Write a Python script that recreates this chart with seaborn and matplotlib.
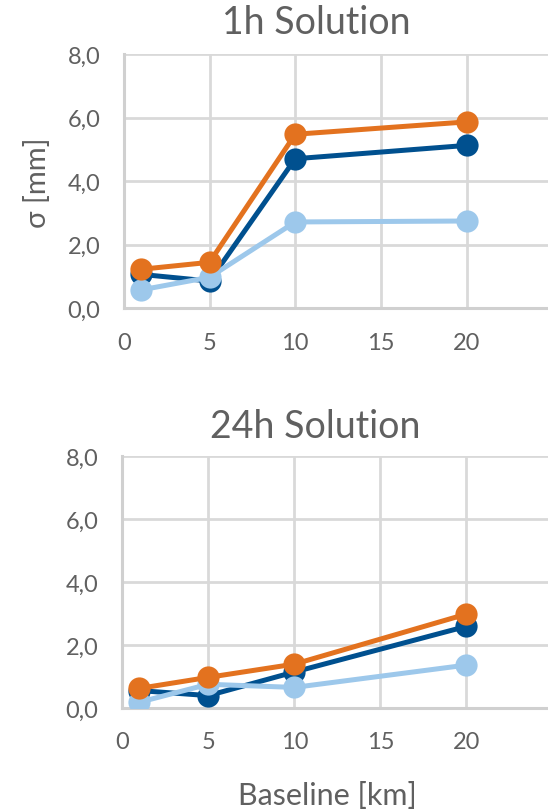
import matplotlib
matplotlib.use("Agg")
import matplotlib.pyplot as plt
import matplotlib.ticker as mticker
import pandas as pd
import seaborn as sns

# Baselines and standard deviations for the two solution lengths
baselines = [1, 5, 10, 20]
series_names = ["Series A", "Series B", "Series C"]
sigma_1h = {
    "Series A": [1.07, 0.86, 4.71, 5.13],
    "Series B": [0.58, 0.98, 2.72, 2.75],
    "Series C": [1.23, 1.45, 5.48, 5.87],
}
sigma_24h = {
    "Series A": [0.55, 0.39, 1.14, 2.59],
    "Series B": [0.18, 0.75, 0.65, 1.36],
    "Series C": [0.62, 0.97, 1.39, 2.98],
}
y_ticks = [0, 2, 4, 6, 8]
x_ticks = [0, 5, 10, 15, 20]

palette = {"Series A": "#00508F", "Series B": "#9DC8EB", "Series C": "#E3721F"}
text_color = "#606060"
grid_color = "#D9D9D9"

sns.set_theme(style="whitegrid")
plt.rcParams["font.family"] = ["Lato", "DejaVu Sans"]


def long_frame(values):
    rows = []
    for name in series_names:
        for b, v in zip(baselines, values[name]):
            rows.append({"baseline": b, "sigma": v, "series": name})
    return pd.DataFrame(rows)


fig = plt.figure(figsize=(5.48, 8.12), dpi=100)
ax_top = fig.add_axes([0.226, 0.619, 0.782, 0.313])
ax_bot = fig.add_axes([0.223, 0.127, 0.785, 0.310])

for ax, values in [(ax_top, sigma_1h), (ax_bot, sigma_24h)]:
    sns.lineplot(
        data=long_frame(values), x="baseline", y="sigma", hue="series",
        hue_order=series_names, palette=palette, marker="o", markersize=16,
        markeredgewidth=0, linewidth=3.6, legend=False, ax=ax, zorder=3,
    )
    ax.set_xlim(0, 25)
    ax.set_ylim(0, 8)
    ax.set_xticks(x_ticks)
    ax.set_yticks(y_ticks)
    ax.yaxis.set_major_formatter(
        mticker.FuncFormatter(lambda v, p: f"{v:.1f}".replace(".", ","))
    )
    ax.grid(True, color=grid_color, linewidth=2)
    for side in ["top", "right"]:
        ax.spines[side].set_visible(False)
    for side in ["left", "bottom"]:
        ax.spines[side].set_color("#D0D0D0")
        ax.spines[side].set_linewidth(2.2)
    ax.tick_params(axis="both", length=0, pad=17, labelsize=17,
                   labelcolor=text_color)
    ax.set_xlabel("")
    ax.set_ylabel("")
    ax.set_facecolor("white")

ax_top.set_ylabel("σ [mm]", fontsize=21, color=text_color, labelpad=12)

fig.text(0.578, 0.972, "1h Solution", ha="center", va="center",
         fontsize=27, color=text_color)
fig.text(0.575, 0.474, "24h Solution", ha="center", va="center",
         fontsize=27, color=text_color)
fig.text(0.597, 0.02, "Baseline [km]", ha="center", va="center",
         fontsize=22, color=text_color)

fig.savefig("out.png", dpi=100, facecolor="white")
